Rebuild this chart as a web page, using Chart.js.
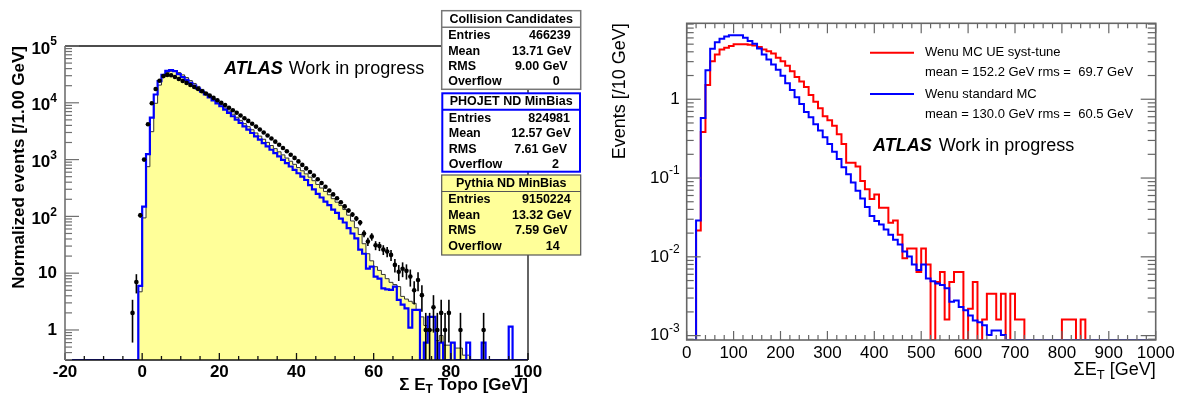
<!DOCTYPE html>
<html><head><meta charset="utf-8">
<script src="https://cdn.jsdelivr.net/npm/chart.js@4.4.1/dist/chart.umd.min.js"></script>
<style>
html,body{margin:0;padding:0;background:#fff;width:1177px;height:394px;overflow:hidden}
canvas{position:absolute;top:0}
#c1{left:0}
#c2{left:590px}
</style></head><body>
<canvas id="c1" width="590" height="394"></canvas>
<canvas id="c2" width="587" height="394"></canvas>
<script>
// ---------------- LEFT PANEL DATA (1 GeV bins, first low edge -20) ----------------
const leftBinStart = -20;
const phojet = [0,0,0,0,0,0,0,0,0,0, 0,0,0,0,0,0,0,0,0,
 6,148,1250,5500,14000,24000,31000,36500,37500,36000,
 32000,28400,25300,22400,20000,17700,15700,14000,12400,11000,
 9800,8700,7600,6640,5800,5060,4420,3850,3370,2940,
 2560,2240,1950,1710,1490,1300,1135,990,865,755,
 660,575,500,437,355,300,250,215,182,158,
 132,115,91,78,62,50,41,26,22,12,
 13,8.7,8,5.4,5.2,5.1,5.8,3.4,2.8,2.4,
 1.1,2.25,2.25,0,0.6,1.7,1.7,0,0.6,0,
 0,0.6,0,0,0,0.6,0,0,0,0.6,
 0,0,0,0,0,0,1.15,0,0,0,
 0];
const pythia = [0,0,0,0,0,0,0,0,0,0, 0,0,0,0,0,0,0,0,0,
 4.7,94,750,3100,9800,20500,28800,34000,36000,36500,
 34000,31000,27800,24600,21900,19400,17200,15200,13400,11800,
 10400,9200,8100,7150,6300,5560,4900,4300,3800,3350,
 2940,2590,2280,2010,1770,1560,1370,1210,1065,935,
 825,725,635,560,490,425,365,316,275,240,
 205,178,155,132,105,83,63,48,33,22,
 16.5,13,11.2,9.5,8,6.9,6.3,5.8,3.9,3.5,
 3.2,2.95,2.25,1.7,1.2,1.0,1.0,0.65,0.8,0.54,
 0.54,0.6,0.48,0.48,0.36,0.36,0,0,0,0,
 0,0,0,0,0,0,0,0,0,0,
 0];
const dataCentres = [-2.5,-1.5,-0.5,
 0.5,1.5,2.5,3.5,4.5,5.5,6.5,7.5,8.5,9.5,10.5,11.5,12.5,13.5,14.5,15.5,16.5,17.5,18.5,19.5,
 20.5,21.5,22.5,23.5,24.5,25.5,26.5,27.5,28.5,29.5,30.5,31.5,32.5,33.5,34.5,35.5,36.5,37.5,38.5,39.5,
 40.5,41.5,42.5,43.5,44.5,45.5,46.5,47.5,48.5,49.5,50.5,51.5,52.5,53.5,54.5,55.5,56.5,57.5,58.5,59.5,
 60.5,61.5,62.5,63.5,64.5,65.5,66.5,67.5,68.5,69.5,70.5,71.5,72.5,73.5,74.5,75.5,76.5,77.5,78.5,79.5,
 82.5,88.5];
const dataValues = [2,7,105,
 1000,4200,9800,17500,24500,29500,31000,30500,28500,26200,24200,22400,20600,19000,17500,16000,14600,13400,12200,11100,
 10000,9100,8200,7400,6660,5980,5360,4800,4280,3810,3390,3000,2660,2350,2070,1820,1600,1400,1220,1070,
 930,807,700,605,523,451,388,333,285,244,208,177,150,127,108,92,78,50,36,44,
 31,30,26,24,21,14,10.6,12,11,8.7,5,7.6,4.1,1,1,2.5,1,2,1,2,
 1,1];
const dataErrors = [1.4,2.6,10,
 0,0,0,0,0,0,0,0,0,0,0,0,0,0,0,0,0,0,0,0,
 0,0,0,0,0,0,0,0,0,0,0,0,0,0,0,0,0,0,0,0,
 0,0,0,0,0,0,0,0,17,15.6,14.4,13.3,12,11,10.4,9.6,8.8,7.1,6,6.6,
 5.6,5.5,5.1,4.9,4.6,3.7,3.3,3.5,3.3,2.9,2.2,2.8,2,1,1,1.6,1,1.4,1,1.4,
 1,1];
const leftXTicks = [-20,0,20,40,60,80,100];
const leftYTicks = [1,10,100,1000,10000,100000];
const leftYTickLabels = ['1','10','10^2','10^3','10^4','10^5'];
const statTitles = ['Collision Candidates','PHOJET ND MinBias','Pythia ND MinBias'];
const statLabels = ['Entries','Mean','RMS','Overflow'];
const statValues = [
 ['466239','13.71 GeV','9.00 GeV','0'],
 ['824981','12.57 GeV','7.61 GeV','2'],
 ['9150224','13.32 GeV','7.59 GeV','14']];

// ---------------- RIGHT PANEL DATA (10 GeV bins, first low edge 0) ----------------
const rightBinStart = 0;
const wenuSystTune = [0,0,0.0216,0.385,1.52,3.03,3.7,4.29,4.5,4.73,
 4.97,5.0,5.0,4.92,4.8,4.6,4.29,4.07,3.8,3.35,
 3.03,2.67,2.26,1.91,1.68,1.43,1.13,0.93,0.77,0.61,
 0.54,0.46,0.36,0.27,0.156,0.156,0.14,0.092,0.072,0.054,
 0.062,0.042,0.042,0.027,0.029,0.019,0.0096,0.0128,0.0128,0.0064,
 0.0128,0.008,0,0.0048,0.0064,0.0016,0.0048,0.0064,0.0064,0,
 0.0022,0.0048,0,0.0016,0.0034,0.0034,0.0016,0.0034,0,0.0034,
 0.0016,0.0016,0,0,0,0,0,0,0,0,
 0.0016,0.0016,0.0016,0,0.0016,0,0,0,0,0,
 0,0,0,0,0,0,0,0,0,0];
const wenuStandard = [0,0,0.029,0.58,2.33,4.38,5.3,5.87,6.24,6.47,
 6.5,6.47,6.05,5.47,5.07,4.4,3.7,3.19,2.75,2.37,
 1.99,1.6,1.31,1.06,0.87,0.69,0.59,0.48,0.40,0.33,
 0.27,0.215,0.175,0.137,0.112,0.088,0.069,0.055,0.043,0.033,
 0.0284,0.0257,0.0222,0.0191,0.0165,0.0143,0.0117,0.0101,0.008,0.0068,
 0.008,0.0053,0.0049,0.0046,0.0044,0.004,0.0027,0.0028,0.0023,0.0021,
 0.0018,0.00156,0.00148,0.00135,0.00102,0.00116,0.00116,0.00102,0,0,
 0,0,0,0,0,0,0,0,0,0,
 0,0,0,0,0,0,0,0,0,0,
 0,0,0,0,0,0,0,0,0,0];
const rightXTicks = [0,100,200,300,400,500,600,700,800,900,1000];
const rightYTicks = [0.001,0.01,0.1,1];
const rightYTickLabels = ['10^-3','10^-2','10^-1','1'];
const legendNames = ['Wenu MC UE syst-tune','Wenu standard MC'];
const legendStats = ['mean = 152.2 GeV rms =  69.7 GeV','mean = 130.0 GeV rms =  60.5 GeV'];

// ---------------- helpers ----------------
const FONT = '"Liberation Sans", Arial, Helvetica, sans-serif';
const LEFT_YMIN = 0.296, LEFT_YMAX = 1e5;
const RIGHT_YMIN = 8.8e-4, RIGHT_YMAX = 9.2;

// empty bins are drawn on the bottom edge of the frame, as the original does
function histPoints(start, width, values, floor){
  const pts = values.map((v,i)=>({x:start+i*width, y: v>0 ? v : floor}));
  const last = values[values.length-1];
  pts.push({x:start+values.length*width, y: last>0 ? last : floor});
  return pts;
}
function segsOf(label){const i=label.indexOf('^');return i<0?[[label,0]]:[[label.slice(0,i),0],[label.slice(i+1),1]];}
function rich(ctx, segs, x, y, align, size, weight, style){
  const f=m=>`${style||''} ${weight} ${m?Math.round(size*0.72):size}px ${FONT}`;
  let total=0;
  for(const [t,m] of segs){ctx.font=f(m);total+=ctx.measureText(t).width;}
  let cx = align==='right'?x-total:align==='center'?x-total/2:x;
  ctx.textAlign='left';
  for(const [t,m] of segs){ctx.font=f(m);ctx.fillText(t,cx,y+(m===1?-size*0.42:m===-1?size*0.3:0));cx+=ctx.measureText(t).width;}
  return total;
}
function seg(ctx,x1,y1,x2,y2){ctx.beginPath();ctx.moveTo(x1,y1);ctx.lineTo(x2,y2);ctx.stroke();}

// ---------------- left decorations ----------------
const leftDecor = {
  id:'leftDecor',
  afterDatasetsDraw(chart){
    const {ctx, chartArea:a} = chart; const X=chart.scales.x, Y=chart.scales.y;
    ctx.save();
    // error bars
    ctx.strokeStyle='#000'; ctx.lineWidth=1.6;
    dataCentres.forEach((c,i)=>{
      const v=dataValues[i], e=dataErrors[i]; if(!e) return;
      const px=X.getPixelForValue(c);
      const top=Y.getPixelForValue(v+e);
      const bot=(v-e)>Y.min?Y.getPixelForValue(v-e):a.bottom;
      seg(ctx,px,top,px,bot);
    });
    // frame
    ctx.strokeStyle='#111'; ctx.lineWidth=1.3;
    seg(ctx,a.left,a.top,a.right,a.top);
    seg(ctx,a.right,a.top,a.right,a.bottom);
    seg(ctx,a.left,a.bottom,a.right,a.bottom);
    for(let v=-20; v<=100; v+=5){
      const px=X.getPixelForValue(v);
      seg(ctx,px,a.bottom,px,a.bottom-(v%20===0?7:4));
    }
    ctx.strokeStyle='#707070'; ctx.lineWidth=1.6;
    seg(ctx,a.left,a.top,a.left,a.bottom);
    ctx.lineWidth=1.2;
    for(let d=-1; d<=5; d++) for(let m=1;m<=9;m++){
      const v=m*Math.pow(10,d); if(v<Y.min||v>Y.max*1.0001) continue;
      const py=Y.getPixelForValue(v);
      seg(ctx,a.left,py,a.left+(m===1?14:7),py);
    }
    // tick labels
    ctx.fillStyle='#000'; ctx.textBaseline='middle';
    leftYTicks.forEach((v,i)=>{
      const s=segsOf(leftYTickLabels[i]);
      rich(ctx,s,a.left-8,Y.getPixelForValue(v)+(s.length>1?3:0),'right',17,'bold');
    });
    leftXTicks.forEach(v=>rich(ctx,[[String(v),0]],X.getPixelForValue(v),a.bottom+12,'center',17,'bold'));
    // axis titles
    rich(ctx,[['Σ E',0],['T',-1],[' Topo [GeV]',0]],a.right,a.bottom+25,'right',17,'bold');
    ctx.save(); ctx.translate(19,a.top); ctx.rotate(-Math.PI/2);
    rich(ctx,[['Normalized events [/1.00 GeV]',0]],0,0,'right',17,'bold');
    ctx.restore();
    // ATLAS label
    const w=rich(ctx,[['ATLAS',0]],224,69.5,'left',18,'bold','italic');
    rich(ctx,[['Work in progress',0]],224+w+6,69.5,'left',18,'normal');
    ctx.restore();
  },
  afterDraw(chart){
    const ctx=chart.ctx; ctx.save();
    const geom=[
      {l:441.7,r:580.7,t:10.7,b:89.3,stroke:'#777',lw:1.5,fill:'#fff'},
      {l:442.3,r:580,t:93.3,b:171.7,stroke:'#0000ff',lw:2,fill:'#fff'},
      {l:441.7,r:580.7,t:175,b:255,stroke:'#555',lw:1.2,fill:'#ffff99'}];
    const rowOff=[25,40.5,55.8,71.3], valOff=[10,9,13,21];
    geom.forEach((g,k)=>{
      ctx.fillStyle=g.fill; ctx.fillRect(g.l,g.t,g.r-g.l,g.b-g.t);
      ctx.strokeStyle=g.stroke; ctx.lineWidth=g.lw; ctx.strokeRect(g.l,g.t,g.r-g.l,g.b-g.t);
      seg(ctx,g.l,g.t+16.5,g.r,g.t+16.5);
      ctx.fillStyle='#000'; ctx.textBaseline='middle';
      rich(ctx,[[statTitles[k],0]],(g.l+g.r)/2,g.t+8.7,'center',12.5,'bold');
      statLabels.forEach((lab,i)=>{
        rich(ctx,[[lab,0]],g.l+6.5,g.t+rowOff[i],'left',12.5,'bold');
        rich(ctx,[[statValues[k][i],0]],g.r-valOff[i],g.t+rowOff[i],'right',12.5,'bold');
      });
    });
    ctx.restore();
  }
};

new Chart(document.getElementById('c1'),{
  type:'line',
  data:{datasets:[
    {label:'Collision Candidates',type:'scatter',data:dataCentres.map((c,i)=>({x:c,y:dataValues[i]})),
     pointRadius:2.3,pointBackgroundColor:'#000',pointBorderWidth:0,showLine:false,order:1},
    {label:'PHOJET ND MinBias',data:histPoints(leftBinStart,1,phojet,LEFT_YMIN),borderColor:'#0000ff',borderWidth:2.2,
     stepped:true,pointRadius:0,fill:false,order:2},
    {label:'Pythia ND MinBias',data:histPoints(leftBinStart,1,pythia,LEFT_YMIN),borderColor:'#333',borderWidth:1,
     stepped:true,pointRadius:0,fill:'start',backgroundColor:'#ffff99',order:3}
  ]},
  options:{responsive:false,animation:false,devicePixelRatio:1,events:[],
    layout:{padding:{left:65,right:62,top:46,bottom:34}},
    scales:{x:{type:'linear',min:-20,max:100,display:false},
            y:{type:'logarithmic',min:LEFT_YMIN,max:LEFT_YMAX,display:false}},
    plugins:{legend:{display:false},tooltip:{enabled:false}}},
  plugins:[leftDecor]
});

// ---------------- right decorations ----------------
const rightDecor = {
  id:'rightDecor',
  afterDatasetsDraw(chart){
    const {ctx, chartArea:a} = chart; const X=chart.scales.x, Y=chart.scales.y;
    ctx.save();
    ctx.strokeStyle='#666'; ctx.lineWidth=1.6;
    ctx.strokeRect(a.left,a.top,a.right-a.left,a.bottom-a.top);
    ctx.lineWidth=1.2;
    for(let v=0; v<=1000; v+=20){
      const px=X.getPixelForValue(v), big=v%100===0;
      seg(ctx,px,a.bottom,px,a.bottom-(big?9:5));
      seg(ctx,px,a.top,px,a.top+(big?10:5));
    }
    for(let d=-4; d<=0; d++) for(let m=1;m<=9;m++){
      const v=m*Math.pow(10,d); if(v<Y.min||v>Y.max) continue;
      const py=Y.getPixelForValue(v);
      seg(ctx,a.left,py,a.left+(m===1?14:7),py);
      seg(ctx,a.right,py,a.right-(m===1?15:8),py);
    }
    ctx.fillStyle='#000'; ctx.textBaseline='middle';
    rightYTicks.forEach((v,i)=>rich(ctx,segsOf(rightYTickLabels[i]),a.left-7,Y.getPixelForValue(v),'right',17,'normal'));
    rightXTicks.forEach(v=>rich(ctx,[[String(v),0]],X.getPixelForValue(v),a.bottom+13,'center',17,'normal'));
    rich(ctx,[['ΣE',0],['T',-1],[' [GeV]',0]],a.right,a.bottom+30,'right',18,'normal');
    ctx.save(); ctx.translate(30,a.top); ctx.rotate(-Math.PI/2);
    rich(ctx,[['Events [/10 GeV]',0]],0,0,'right',18,'normal');
    ctx.restore();
    // legend
    const colors=['#ff0000','#0000ff'], ys=[[52.7,72.7],[94,114]];
    ctx.lineWidth=2;
    legendNames.forEach((n,i)=>{
      ctx.strokeStyle=colors[i]; seg(ctx,280,ys[i][0],324,ys[i][0]);
      rich(ctx,[[n,0]],335,ys[i][0],'left',13,'normal');
      rich(ctx,[[legendStats[i],0]],335,ys[i][1],'left',13,'normal');
    });
    const w=rich(ctx,[['ATLAS',0]],283,146,'left',18,'bold','italic');
    rich(ctx,[['Work in progress',0]],283+w+7,146,'left',18,'normal');
    ctx.restore();
  }
};

new Chart(document.getElementById('c2'),{
  type:'line',
  data:{datasets:[
    {label:legendNames[1],data:histPoints(rightBinStart,10,wenuStandard,RIGHT_YMIN),borderColor:'#0000ff',borderWidth:2,
     stepped:true,pointRadius:0,fill:false,order:1},
    {label:legendNames[0],data:histPoints(rightBinStart,10,wenuSystTune,RIGHT_YMIN),borderColor:'#ff0000',borderWidth:2,
     stepped:true,pointRadius:0,fill:false,order:2}
  ]},
  options:{responsive:false,animation:false,devicePixelRatio:1,events:[],
    layout:{padding:{left:96.7,right:21.3,top:23.3,bottom:54}},
    scales:{x:{type:'linear',min:0,max:1000,display:false},
            y:{type:'logarithmic',min:RIGHT_YMIN,max:RIGHT_YMAX,display:false}},
    plugins:{legend:{display:false},tooltip:{enabled:false}}},
  plugins:[rightDecor]
});
</script></body></html>
